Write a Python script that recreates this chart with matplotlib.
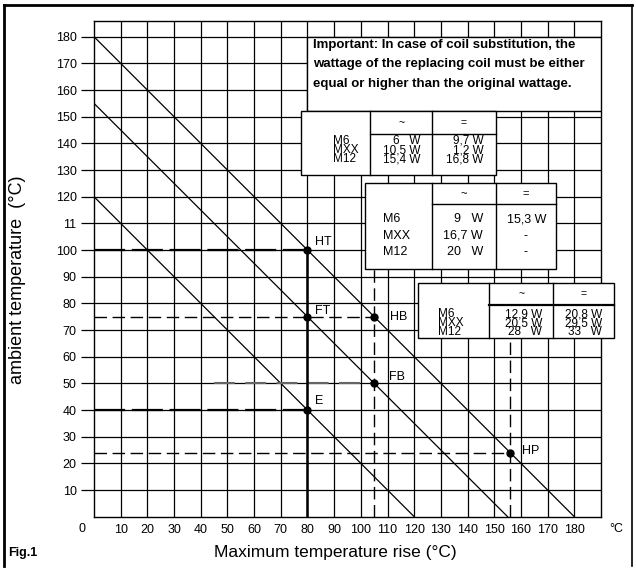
import numpy as np
import matplotlib.pyplot as plt
from matplotlib.patches import Rectangle
from matplotlib.lines import Line2D

plt.rcParams['font.family'] = ['Liberation Sans', 'DejaVu Sans']

# Axis ticks and labels (the "11" is printed that way in the original)
x_ticks = [10, 20, 30, 40, 50, 60, 70, 80, 90, 100, 110, 120, 130, 140, 150, 160, 170, 180]
x_labels = [str(v) for v in x_ticks]
y_ticks = [10, 20, 30, 40, 50, 60, 70, 80, 90, 100, 110, 120, 130, 140, 150, 160, 170, 180]
y_labels = ['10', '20', '30', '40', '50', '60', '70', '80', '90', '100', '11',
            '120', '130', '140', '150', '160', '170', '180']

# Limit lines: ambient = offset - temperature rise
line_offsets = [180, 155, 120]

# Operating points
point_names = ['HT', 'FT', 'E', 'HB', 'FB', 'HP']
point_rise = [80, 80, 80, 105, 105, 156]
point_ambient = [100, 75, 40, 75, 50, 24]

# Coil wattage tables
coil_names = ['M6', 'MXX', 'M12']
table1_ac = ['6   W', '10,5 W', '15,4 W']
table1_dc = ['9,7 W', '1,2 W', '16,8 W']
table2_ac = ['9   W', '16,7 W', '20   W']
table2_dc = ['15,3 W', '-', '-']
table3_ac = ['12,9 W', '20,5 W', '28   W']
table3_dc = ['20,8 W', '29,5 W', '33   W']

note_lines = ['Important: In case of coil substitution, the',
              'wattage of the replacing coil must be either',
              'equal or higher than the original wattage.']

narrow = ['Liberation Sans Narrow', 'Liberation Sans', 'DejaVu Sans']

fig = plt.figure(figsize=(6.36, 5.73), dpi=100)
ax = fig.add_axes([94 / 636, 1 - 516.7 / 573, 507 / 636, 496 / 573])
ax.set_xlim(0, 190)
ax.set_ylim(0, 186)

ax.set_xticks(x_ticks)
ax.set_xticklabels(x_labels, fontsize=9)
ax.set_yticks(y_ticks)
ax.set_yticklabels(y_labels, fontsize=9)
ax.tick_params(axis='x', length=0, pad=5)
ax.tick_params(axis='y', length=9.5, width=0.9, pad=3)
ax.grid(True, color='black', lw=0.9)
ax.set_axisbelow(True)
for s in ax.spines.values():
    s.set_linewidth(1.0)

ax.text(-4.6, -4.5, '0', fontsize=9, ha='center', va='center', clip_on=False)
ax.text(195.7, -4.5, '°C', fontsize=9, ha='center', va='center', clip_on=False)

# diagonal limit lines
for off in line_offsets:
    ax.plot([0, off], [off, 0], color='black', lw=0.9, zorder=3)

# reference lines to the operating points
dash = (0, (9, 4))
ax.plot([0, 105], [75, 75], color='black', lw=1, ls=dash, zorder=3)
ax.plot([0, 156], [24, 24], color='black', lw=1, ls=dash, zorder=3)
ax.plot([105, 105], [0, 93], color='black', lw=1, ls=dash, zorder=3)
ax.plot([156, 156], [0, 67], color='black', lw=1, ls=dash, zorder=3)
ax.plot([0, 80], [100, 100], color='black', lw=1.6, ls=(0, (14, 3)), zorder=3)
ax.plot([0, 80], [40, 40], color='black', lw=1.6, ls=(0, (14, 3)), zorder=3)
ax.plot([45, 105], [50, 50], color='#666666', lw=1.5, ls=(0, (10, 5)), zorder=3)
ax.plot([80, 80], [0, 100], color='black', lw=1.8, zorder=3)

ax.plot(point_rise, point_ambient, 'o', color='black', ms=5, zorder=4)
label_dx = [3, 3, 3, 6, 5.5, 4.5]
label_dy = [3, 2, 3.5, 0, 2.5, 0.7]
for name, px, py, dx, dy in zip(point_names, point_rise, point_ambient, label_dx, label_dy):
    ax.text(px + dx, py + dy, name, fontsize=9, ha='left', va='center', zorder=4)

# note box
ax.add_patch(Rectangle((80, 152), 110, 28, fc='white', ec='black', lw=1, zorder=5))
for i, line in enumerate(note_lines):
    ax.text(82, 177 - i * 7.4, line, fontsize=9.5, fontweight='bold', family=narrow,
            ha='left', va='center', zorder=6)


def draw_table(xs, ys, rows_y, head_y, name_x, ac_x, dc_x, ac, dc, fs, head_lw=1):
    x0, x1, x2, x3 = xs
    y0, yh, y1 = ys
    ax.add_patch(Rectangle((x0, y0), x3 - x0, y1 - y0, fc='white', ec='black',
                           lw=1, zorder=5, clip_on=False))
    kw = dict(color='black', zorder=6, clip_on=False)
    ax.plot([x1, x1], [y0, y1], lw=1, **kw)
    ax.plot([x2, x2], [y0, y1], lw=1, **kw)
    ax.plot([x1, x3], [yh, yh], lw=head_lw, **kw)
    ax.text((x1 + x2) / 2, head_y, '~', fontsize=fs - 1, ha='center', va='center', zorder=6)
    ax.text((x2 + x3) / 2, head_y, '=', fontsize=fs - 1, ha='center', va='center', zorder=6)
    for name, a, d, ry in zip(coil_names, ac, dc, rows_y):
        ax.text(name_x, ry, name, fontsize=fs, ha='left', va='center', zorder=6)
        for val, vx, c0, c1 in [(a, ac_x, x1, x2), (d, dc_x, x2, x3)]:
            if val == '-':
                ax.text((c0 + c1) / 2, ry, val, fontsize=fs, ha='center', va='center', zorder=6)
            else:
                ax.text(vx, ry, val, fontsize=fs, ha='right', va='center', zorder=6,
                        clip_on=False)


draw_table((77.5, 103.5, 126.7, 150.5), (128, 143.4, 152), [141.0, 137.5, 134.0], 147.6,
           89.7, 122.3, 146, table1_ac, table1_dc, 8.5)
draw_table((101.6, 126.7, 150.7, 173), (93, 117.2, 125), [111.5, 105.3, 99.2], 120.8,
           108.2, 145.7, 169.5, table2_ac, table2_dc, 9)
draw_table((121.5, 148.1, 172.1, 195), (67, 79.4, 87.6), [75.9, 72.5, 69.1], 83.3,
           129.1, 167.9, 190.5, table3_ac, table3_dc, 8.5, head_lw=1.6)

# axis titles
fig.text(18 / 636, 1 - 280 / 573, 'ambient temperature  (°C)', fontsize=13,
         rotation=90, ha='center', va='center')
fig.text(335 / 636, 1 - 553 / 573, 'Maximum temperature rise (°C)', fontsize=12.5,
         ha='center', va='center')
fig.text(8 / 636, 1 - 553 / 573, 'Fig.1', fontsize=9, fontweight='bold', family=narrow,
         ha='left', va='center')

# outer frame
fig.add_artist(Line2D([4 / 636, 4 / 636], [1 - 566 / 573, 1 - 5 / 573], color='black', lw=2))
fig.add_artist(Line2D([4 / 636, 632 / 636], [1 - 5 / 573, 1 - 5 / 573], color='black', lw=2))
fig.add_artist(Line2D([632 / 636, 632 / 636], [1 - 566 / 573, 1 - 5 / 573], color='black', lw=1.2))

fig.savefig('out.png', dpi=100)
